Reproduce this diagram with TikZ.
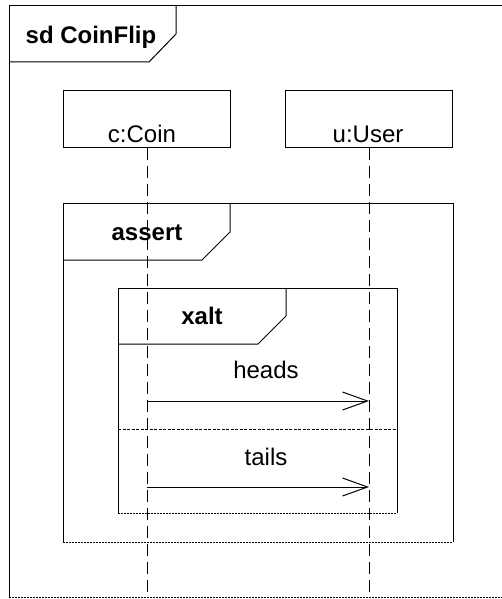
\documentclass[tikz,border=0pt]{standalone}
\usepackage{fontspec}
\setmainfont{Liberation Sans}
\usetikzlibrary{arrows.meta, positioning, calc}

\begin{document}
\begin{tikzpicture}[x=1pt, y=-1pt, line width=1pt,
  every node/.style={font=\fontsize{24}{28}\selectfont, inner sep=0pt},
  tagtext/.style={font=\fontsize{24}{28}\selectfont\bfseries, anchor=base},
  lifebox/.style={draw, minimum width=167pt, minimum height=56pt},
  lifeline/.style={dash pattern=on 12pt off 6pt},
  edgeline/.style={dash pattern=on 2pt off 1pt},
  msg/.style={-{Straight Barb[length=25pt, width=18pt, line width=1pt]}}]
  \useasboundingbox (0,0) rectangle (502,599);

  % outer frame
  \draw (9,597) -- (9,6) -- (506,6);
  \draw[edgeline] (9,597) -- (506,597);
  \draw (9,62) -- (149,62) -- (176,34) -- (176,6);
  \node[tagtext] (sd) at (91,44) {sd CoinFlip};

  % lifelines
  \node[lifebox] (coin) at (147,119) {};
  \node[lifebox] (user) at (369,119) {};
  \node[anchor=base] (coinlbl) at (142,142) {c:Coin};
  \node[anchor=base] (userlbl) at (368,142) {u:User};
  \coordinate (coinend) at (147,595);
  \coordinate (userend) at (369,595);
  \draw[lifeline] (coin.south) -- (coinend);
  \draw[lifeline] (user.south) -- (userend);

  % assert fragment
  \draw (63,542) -- (63,203) -- (453,203) -- (453,542);
  \draw[edgeline] (63,542) -- (453,542);
  \draw (63,260) -- (202,260) -- (230,232) -- (230,203);
  \node[tagtext] (assert) at (147,240) {assert};

  % xalt fragment
  \draw (118,513) -- (118,288) -- (397,288) -- (397,513);
  \draw[edgeline] (118,513) -- (397,513);
  \draw (118,344) -- (258,344) -- (286,316) -- (286,288);
  \node[tagtext] (xalt) at (202,324) {xalt};
  \draw[line width=0.8pt, dash pattern=on 3pt off 1.5pt] (118,429) -- (397,429);

  % messages
  \coordinate (coinH) at (147,401);
  \coordinate (userH) at (369,401);
  \coordinate (coinT) at (147,487);
  \coordinate (userT) at (369,487);
  \draw[msg] (coinH) -- (userH);
  \draw[msg] (coinT) -- (userT);
  \node[anchor=base] (heads) at (266,378) {heads};
  \node[anchor=base] (tails) at (266,465) {tails};
\end{tikzpicture}
\end{document}
